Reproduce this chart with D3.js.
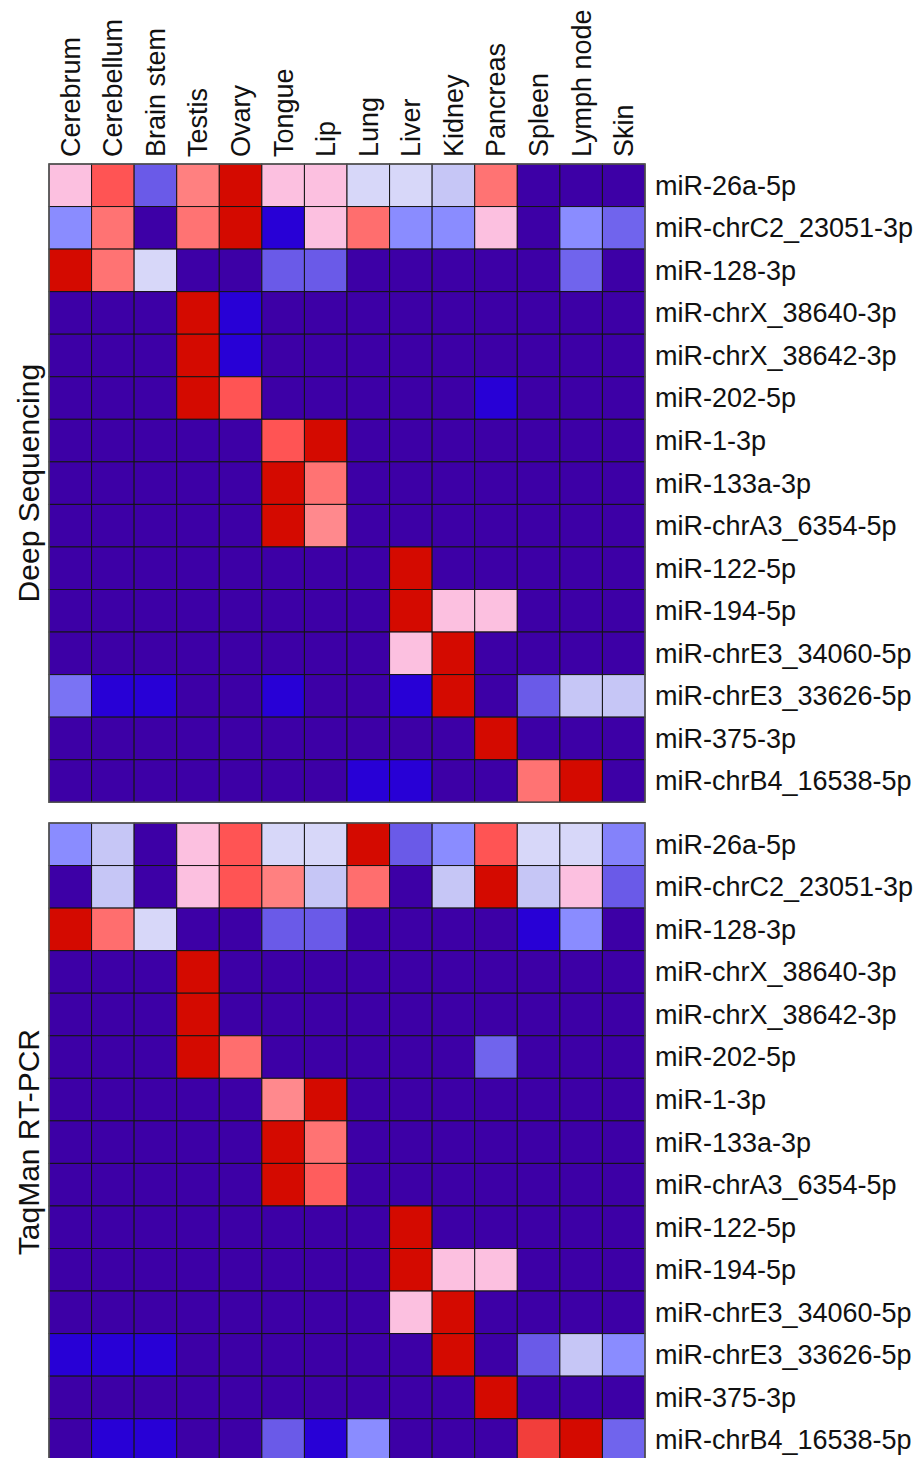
<!DOCTYPE html>
<html>
<head>
<meta charset="utf-8">
<script src="https://cdn.jsdelivr.net/npm/d3@7"></script>
<style>
  body { margin: 0; background: #fff; }
  text { font-family: "Liberation Sans", Arial, sans-serif; fill: #111; }
</style>
</head>
<body>
<script>
// tissues (columns) and miRNAs (rows)
let tissues = ['Cerebrum', 'Cerebellum', 'Brain stem', 'Testis', 'Ovary', 'Tongue', 'Lip',
  'Lung', 'Liver', 'Kidney', 'Pancreas', 'Spleen', 'Lymph node', 'Skin'];

let mirnas = ['miR-26a-5p', 'miR-chrC2_23051-3p', 'miR-128-3p', 'miR-chrX_38640-3p',
  'miR-chrX_38642-3p', 'miR-202-5p', 'miR-1-3p', 'miR-133a-3p', 'miR-chrA3_6354-5p',
  'miR-122-5p', 'miR-194-5p', 'miR-chrE3_34060-5p', 'miR-chrE3_33626-5p', 'miR-375-3p',
  'miR-chrB4_16538-5p'];

// relative expression, 0 = lowest, 1 = highest
let deepSeq = [
  [0.65, 0.9, 0.3, 0.8, 1, 0.65, 0.65, 0.56, 0.56, 0.5, 0.83, 0, 0, 0],
  [0.4, 0.83, 0, 0.83, 1, 0.15, 0.65, 0.84, 0.4, 0.4, 0.65, 0, 0.4, 0.32],
  [1, 0.83, 0.56, 0, 0, 0.3, 0.3, 0, 0, 0, 0, 0, 0.32, 0],
  [0, 0, 0, 1, 0.15, 0, 0, 0, 0, 0, 0, 0, 0, 0],
  [0, 0, 0, 1, 0.15, 0, 0, 0, 0, 0, 0, 0, 0, 0],
  [0, 0, 0, 1, 0.9, 0, 0, 0, 0, 0, 0.15, 0, 0, 0],
  [0, 0, 0, 0, 0, 0.9, 1, 0, 0, 0, 0, 0, 0, 0],
  [0, 0, 0, 0, 0, 1, 0.83, 0, 0, 0, 0, 0, 0, 0],
  [0, 0, 0, 0, 0, 1, 0.78, 0, 0, 0, 0, 0, 0, 0],
  [0, 0, 0, 0, 0, 0, 0, 0, 1, 0, 0, 0, 0, 0],
  [0, 0, 0, 0, 0, 0, 0, 0, 1, 0.65, 0.65, 0, 0, 0],
  [0, 0, 0, 0, 0, 0, 0, 0, 0.65, 1, 0, 0, 0, 0],
  [0.35, 0.15, 0.15, 0, 0, 0.15, 0, 0, 0.15, 1, 0, 0.3, 0.5, 0.5],
  [0, 0, 0, 0, 0, 0, 0, 0, 0, 0, 1, 0, 0, 0],
  [0, 0, 0, 0, 0, 0, 0, 0.15, 0.15, 0, 0, 0.83, 1, 0]
];

let taqman = [
  [0.4, 0.5, 0, 0.65, 0.9, 0.56, 0.56, 1, 0.3, 0.4, 0.9, 0.56, 0.56, 0.38],
  [0, 0.5, 0, 0.65, 0.9, 0.8, 0.5, 0.84, 0, 0.5, 1, 0.5, 0.65, 0.3],
  [1, 0.84, 0.56, 0, 0, 0.3, 0.3, 0, 0, 0, 0, 0.15, 0.4, 0],
  [0, 0, 0, 1, 0, 0, 0, 0, 0, 0, 0, 0, 0, 0],
  [0, 0, 0, 1, 0, 0, 0, 0, 0, 0, 0, 0, 0, 0],
  [0, 0, 0, 1, 0.84, 0, 0, 0, 0, 0, 0.32, 0, 0, 0],
  [0, 0, 0, 0, 0, 0.78, 1, 0, 0, 0, 0, 0, 0, 0],
  [0, 0, 0, 0, 0, 1, 0.83, 0, 0, 0, 0, 0, 0, 0],
  [0, 0, 0, 0, 0, 1, 0.88, 0, 0, 0, 0, 0, 0, 0],
  [0, 0, 0, 0, 0, 0, 0, 0, 1, 0, 0, 0, 0, 0],
  [0, 0, 0, 0, 0, 0, 0, 0, 1, 0.65, 0.65, 0, 0, 0],
  [0, 0, 0, 0, 0, 0, 0, 0, 0.65, 1, 0, 0, 0, 0],
  [0.15, 0.15, 0.15, 0, 0, 0, 0, 0, 0, 1, 0, 0.3, 0.5, 0.4],
  [0, 0, 0, 0, 0, 0, 0, 0, 0, 0, 1, 0, 0, 0],
  [0, 0.15, 0.15, 0, 0, 0.3, 0.15, 0.4, 0, 0, 0, 0.93, 1, 0.32]
];

let panels = [
  { title: 'Deep Sequencing', values: deepSeq, top: 164 },
  { title: 'TaqMan RT-PCR', values: taqman, top: 823 }
];

let width = 915, height = 1458;
let gridLeft = 49, gridRight = 645, rowH = 42.55;

// colour ramp from dark purple through blue and pale tones to red
let color = d3.scaleLinear()
  .domain([0, 0.15, 0.3, 0.4, 0.5, 0.57, 0.65, 0.8, 0.9, 1])
  .range(['#3d00a6', '#2800d6', '#6a5ae8', '#8a8cff', '#c6c6f6', '#dadafa',
          '#fcc0e0', '#ff8080', '#ff5454', '#d40a00']);

let svg = d3.select('body').append('svg').attr('width', width).attr('height', height);

let x = d3.scaleBand().domain(tissues).range([gridLeft, gridRight]);

// column labels
svg.selectAll('text.col')
   .data(tissues)
   .enter()
   .append('text')
   .attr('class', 'col')
   .attr('transform', function (d) {
      return 'translate(' + (x(d) + x.bandwidth() / 2) + ',157) rotate(-90)';
   })
   .attr('dy', '0.35em')
   .style('font-size', '27px')
   .text(function (d) { return d; });

panels.forEach(function (p) {
  let y = d3.scaleBand().domain(mirnas).range([p.top, p.top + rowH * mirnas.length]);
  let g = svg.append('g');

  let cells = [];
  p.values.forEach(function (row, i) {
    row.forEach(function (v, j) {
      cells.push({ mir: mirnas[i], tissue: tissues[j], v: v });
    });
  });

  g.selectAll('rect')
   .data(cells)
   .enter()
   .append('rect')
   .attr('x', function (d) { return x(d.tissue); })
   .attr('y', function (d) { return y(d.mir); })
   .attr('width', x.bandwidth())
   .attr('height', y.bandwidth())
   .attr('fill', function (d) { return color(d.v); })
   .attr('stroke', '#151515')
   .attr('stroke-width', 1);

  // outer border
  g.append('rect')
   .attr('x', gridLeft)
   .attr('y', p.top)
   .attr('width', gridRight - gridLeft)
   .attr('height', rowH * mirnas.length)
   .attr('fill', 'none')
   .attr('stroke', '#555')
   .attr('stroke-width', 1.5);

  // row labels
  g.selectAll('text.row')
   .data(mirnas)
   .enter()
   .append('text')
   .attr('class', 'row')
   .attr('x', 655)
   .attr('y', function (d) { return y(d) + y.bandwidth() / 2; })
   .attr('dy', '0.35em')
   .style('font-size', '27px')
   .text(function (d) { return d; });

  // panel title
  g.append('text')
   .attr('transform', 'translate(28,' + (p.top + rowH * mirnas.length / 2) + ') rotate(-90)')
   .attr('text-anchor', 'middle')
   .attr('dy', '0.35em')
   .style('font-size', '30px')
   .text(p.title);
});
</script>
</body>
</html>
